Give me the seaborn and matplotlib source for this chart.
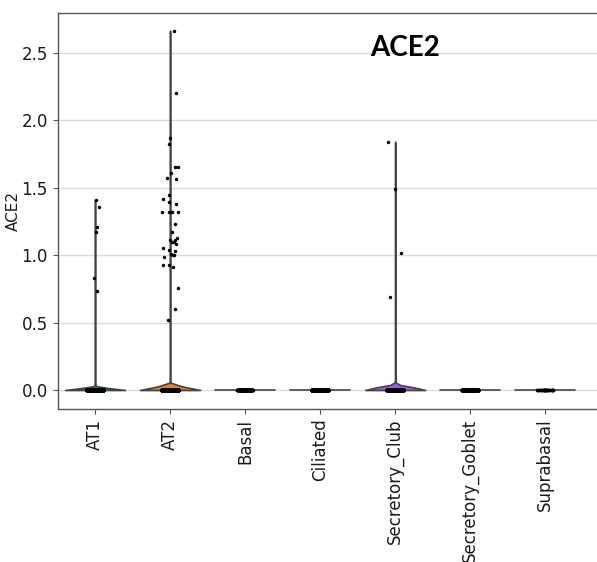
import numpy as np
import pandas as pd
import matplotlib
matplotlib.use("Agg")
import matplotlib.pyplot as plt
import seaborn as sns

# ---- data ----
cell_types = ["AT1", "AT2", "Basal", "Ciliated", "Secretory_Club",
              "Secretory_Goblet", "Suprabasal"]
palette_colors = ["#1f77b4", "#ff7f0e", "#279e68", "#d62728",
                  "#aa40fc", "#8c564b", "#e377c2"]

# expression values of the cells with non-zero ACE2
at1_values = [1.41, 1.355, 1.209, 1.172, 0.829, 0.734]
at2_values = [2.666, 2.203, 1.867, 1.822, 1.654, 1.654, 1.610, 1.575,
              1.563, 1.449, 1.419, 1.392, 1.377, 1.317, 1.317, 1.317,
              1.317, 1.229, 1.175, 1.125, 1.116, 1.116, 1.101, 1.101,
              1.085, 1.053, 1.033, 1.037, 1.00, 1.00, 1.01, 0.987,
              0.930, 0.930, 0.910, 0.754, 0.599, 0.519]
basal_values = []
ciliated_values = []
club_values = [1.842, 1.489, 1.019, 0.692]
goblet_values = []
suprabasal_values = []

# number of cells with zero expression (estimated)
zero_counts = [2600, 5400, 150, 1500, 1100, 600, 40]

nonzero = [at1_values, at2_values, basal_values, ciliated_values,
           club_values, goblet_values, suprabasal_values]

rows_ct, rows_val = [], []
for ct, vals, nz in zip(cell_types, nonzero, zero_counts):
    allv = list(vals) + [0.0] * nz
    rows_ct += [ct] * len(allv)
    rows_val += allv
df = pd.DataFrame({"cell_type": rows_ct, "ACE2": rows_val})

palette = dict(zip(cell_types, palette_colors))

sns.set_style("white")
plt.rcParams["font.family"] = ["DejaVu Sans"]

fig = plt.figure(figsize=(5.97, 5.62), dpi=100)
ax = fig.add_axes([57.5 / 597, (562 - 409) / 562,
                   (597 - 57.5) / 597, (409 - 13) / 562])

sns.violinplot(data=df, x="cell_type", y="ACE2", hue="cell_type",
               order=cell_types, palette=palette, legend=False,
               cut=0, inner=None, density_norm="width", width=0.8,
               linewidth=1.2, linecolor="#444444", ax=ax)
np.random.seed(0)
sns.stripplot(data=df, x="cell_type", y="ACE2", order=cell_types,
              color="black", size=2.5, jitter=0.11, ax=ax, zorder=5)

ax.set_xlim(-0.5, 6.69)
ax.set_ylim(-0.141, 2.797)
ax.set_yticks([0.0, 0.5, 1.0, 1.5, 2.0, 2.5])
ax.yaxis.grid(True, color="#dcdcdc", linewidth=1)
ax.xaxis.grid(False)
ax.set_axisbelow(True)

for s in ["left", "bottom", "top"]:
    ax.spines[s].set_color("#555555")
    ax.spines[s].set_linewidth(1)
ax.spines["right"].set_visible(False)

ax.tick_params(axis="both", which="both", length=3.5, width=0.8,
               color="#555555", labelsize=12, labelcolor="#1a1a1a",
               left=True, bottom=True)
ax.tick_params(axis="x", labelrotation=90)
ax.set_xlabel("")
ax.set_ylabel("ACE2", fontsize=11, color="#1a1a1a")
ax.yaxis.set_label_coords((21 - 57.5) / 539.5, 0.5)

ax.text(0.645, 0.912, "ACE2", transform=ax.transAxes, ha="center",
        va="center", fontsize=20, fontweight="bold", family=["Lato"],
        color="black")

fig.savefig("out.png", dpi=100)
